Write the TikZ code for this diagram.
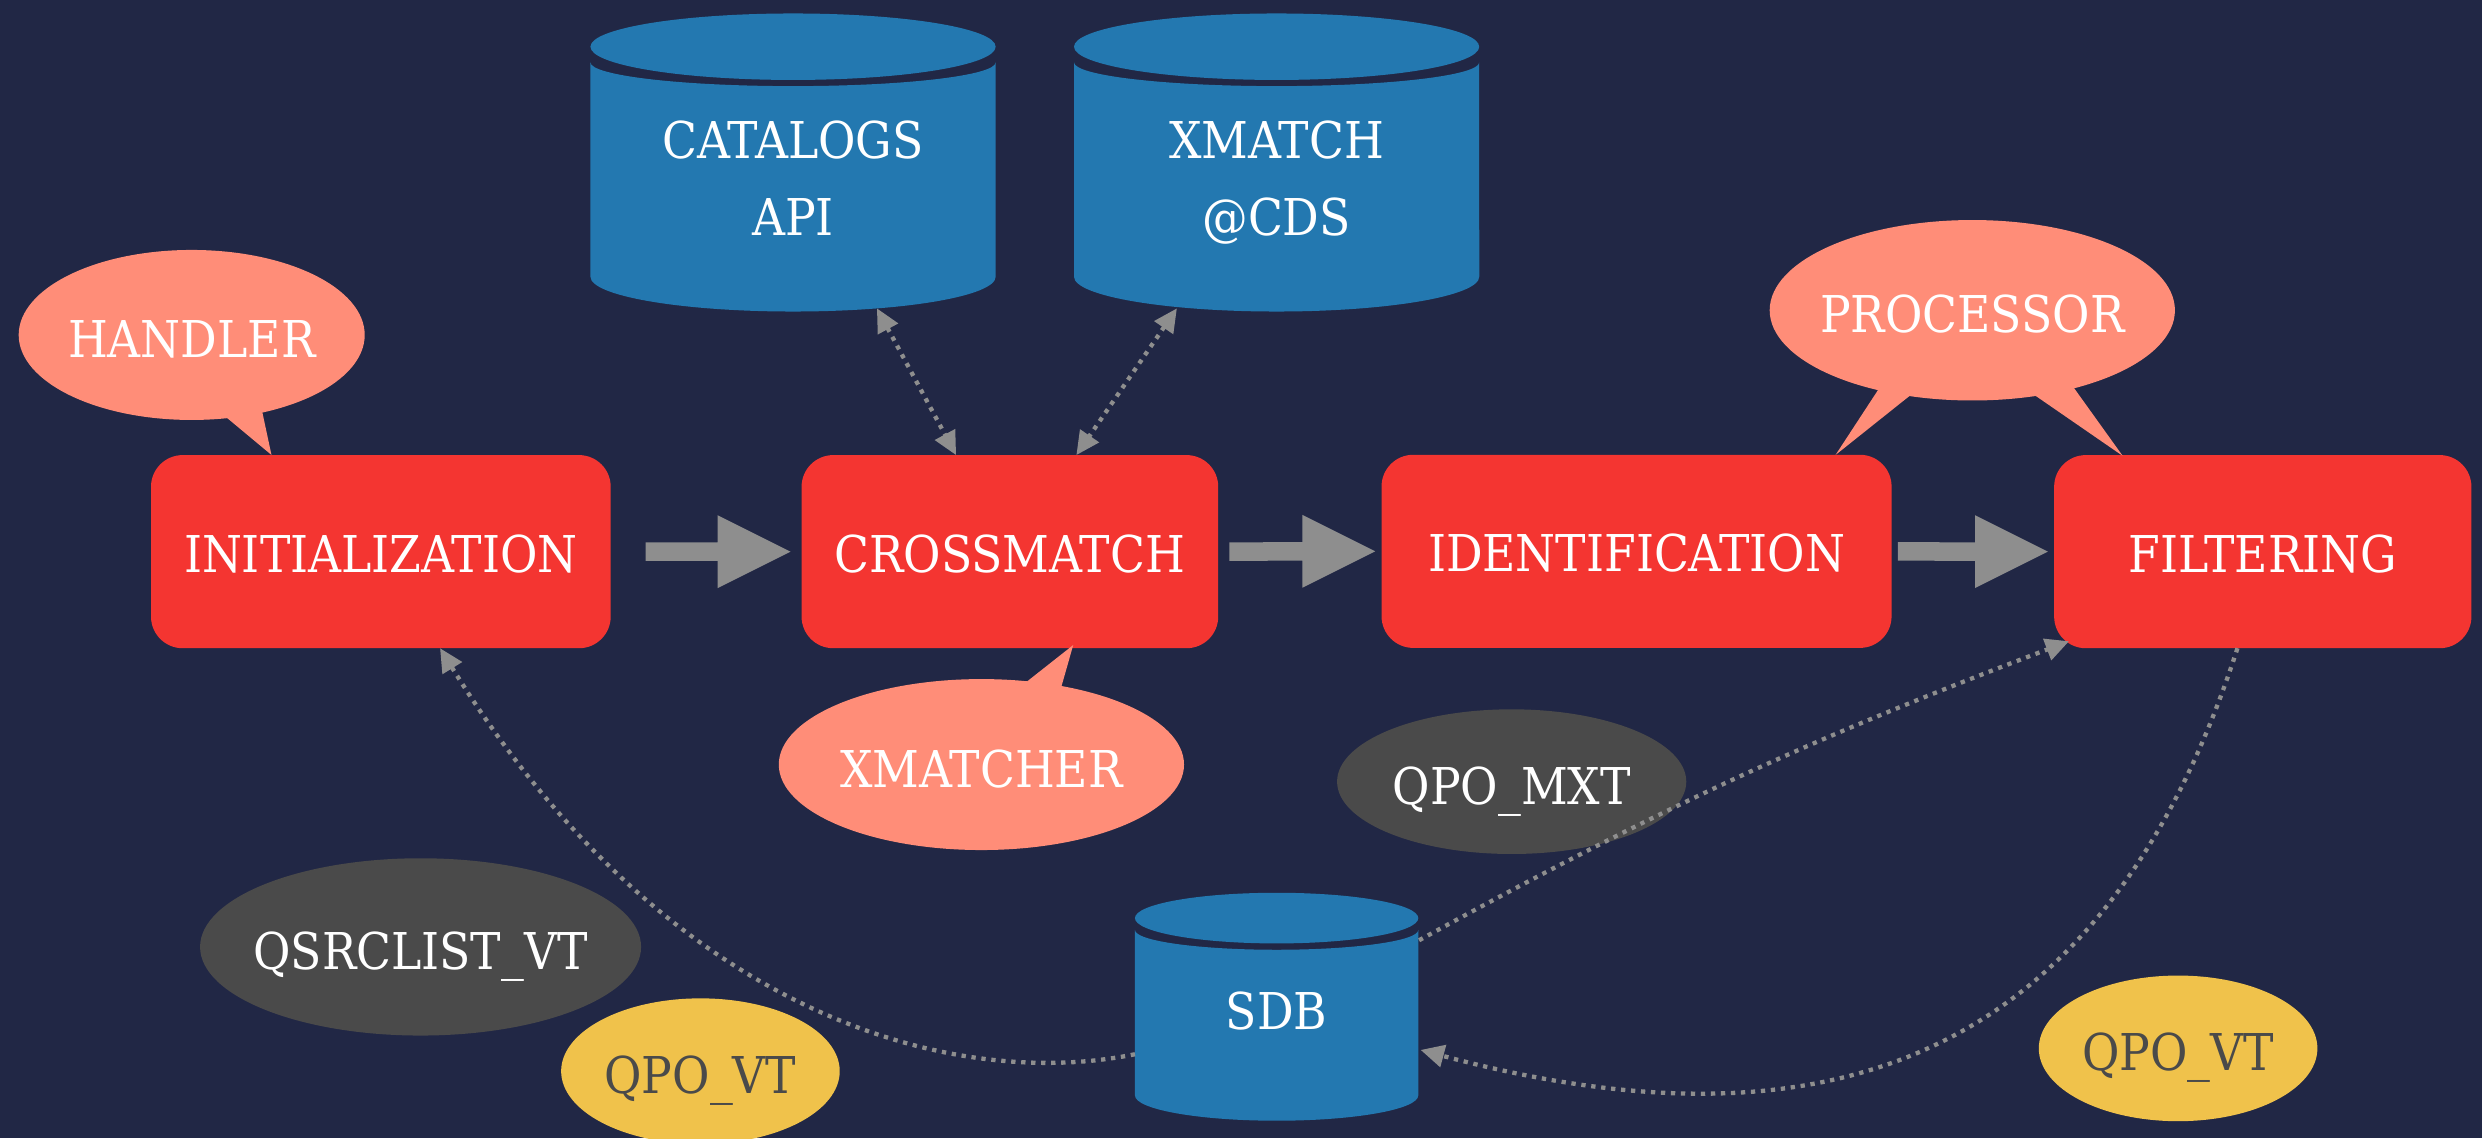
\documentclass[tikz,border=0pt]{standalone}
\usepackage{fontspec}
\setmainfont{DejaVu Serif Condensed}
\usetikzlibrary{calc,arrows.meta,shapes.geometric}

\definecolor{bgnavy}{HTML}{212745}
\definecolor{stepred}{HTML}{F43531}
\definecolor{dbblue}{HTML}{2378B0}
\definecolor{talkpink}{HTML}{FF8D78}
\definecolor{tablegray}{HTML}{4A4A4A}
\definecolor{viewgold}{HTML}{F0C24B}
\definecolor{linkgray}{HTML}{8E8E8E}

% label that does not widen its ellipse
\newcommand\nowidth[1]{\makebox[0pt]{#1}}

% thick block arrow between two stages: #3 gap after source, #4 gap before target
\newcommand\flowarrow[4]{%
  \fill[linkgray]
    ($(#1.east)+(#3,-5.85)$) --
    ($(#2.west)+(-#4-46,-5.85)$) --
    ($(#2.west)+(-#4-46,-23)$) --
    ($(#2.west)+(-#4,0)$) --
    ($(#2.west)+(-#4-46,23)$) --
    ($(#2.west)+(-#4-46,5.85)$) --
    ($(#1.east)+(#3,5.85)$) -- cycle;}

\begin{document}
\begin{tikzpicture}[x=0.25mm,y=-0.25mm,
  every node/.style={inner sep=0pt, outer sep=0pt,
    font=\fontsize{22.8}{34.6}\selectfont},
  oneline/.style={text height=18.4pt, text depth=0pt},
  lowline/.style={text height=20.2pt, text depth=0pt},
  stage/.style={rectangle, rounded corners=5mm, fill=stepred, text=white,
    minimum height=30.5mm, oneline},
  talk/.style={ellipse, fill=talkpink, text=white, lowline},
  table/.style={ellipse, fill=tablegray, text=white, lowline},
  view/.style={ellipse, fill=viewgold, text=tablegray, lowline},
  dbtext/.style={text=white, align=center, text depth=0pt},
  link/.style={draw=linkgray, line width=0.68mm, dash pattern=on 0.68mm off 0.9mm},
  >={Triangle[length=3.7mm,width=3.5mm]}
]
\useasboundingbox (0,0) rectangle (1568,719);
\fill[bgnavy] (0,0) rectangle (1568,719);

% database drums: lid, then body with a thin gap under the lid
\fill[dbblue] (501,29.5) ellipse [x radius=32mm, y radius=5.25mm];
\fill[dbblue] (373,39.4) -- (373,174.8)
  arc[start angle=180, end angle=360, x radius=32mm, y radius=5.5mm]
  -- (629,39.4)
  arc[start angle=0, end angle=-180, x radius=32mm, y radius=3.75mm] -- cycle;

\fill[dbblue] (806.5,29.5) ellipse [x radius=32mm, y radius=5.25mm];
\fill[dbblue] (678.5,39.4) -- (678.5,174.8)
  arc[start angle=180, end angle=360, x radius=32mm, y radius=5.5mm]
  -- (934.5,39.4)
  arc[start angle=0, end angle=-180, x radius=32mm, y radius=3.75mm] -- cycle;

\fill[dbblue] (806.5,580) ellipse [x radius=22.375mm, y radius=4mm];
\fill[dbblue] (717,587.5) -- (717,692)
  arc[start angle=180, end angle=360, x radius=22.375mm, y radius=4mm]
  -- (896,587.5)
  arc[start angle=0, end angle=-180, x radius=22.375mm, y radius=3.125mm] -- cycle;

\node[dbtext] (cat) at (501,112.8) {CATALOGS\\API};
\node[dbtext] (xm) at (806.5,112.8) {XMATCH\\@CDS};
\node[dbtext, text height=16.6pt] (sdb) at (806.5,639) {SDB};

% pipeline stages
\node[stage, minimum width=72.6mm] (init) at (240.6,348.5) {INITIALIZATION};
\node[stage, minimum width=65.8mm] (cross) at (638,348.5) {CROSSMATCH};
\node[stage, minimum width=80.55mm] (ident) at (1033.9,348.3) {IDENTIFICATION};
\node[stage, minimum width=65.9mm] (filt) at (1429.5,348.5) {FILTERING};

% speech bubbles
\node[talk, minimum width=54.65mm, minimum height=26.85mm] (handler) at (121.1,211.6) {\nowidth{HANDLER}};
\node[talk, minimum width=64mm, minimum height=28.5mm] (proc) at (1246,196) {\nowidth{PROCESSOR}};
\node[talk, minimum width=64mm, minimum height=27mm] (xmr) at (620,483) {\nowidth{XMATCHER}};

\fill[talkpink] ($(handler)+(19.9,50.4)$) -- ($(handler)+(50.4,75.8)$) -- ($(handler)+(43.9,45.4)$) -- cycle;
\fill[talkpink] ($(proc)+(-58,48)$) -- ($(proc)+(-86.4,91.4)$) -- ($(proc)+(-37,52)$) -- cycle;
\fill[talkpink] ($(proc)+(37,52)$) -- ($(proc)+(95,92)$) -- ($(proc)+(62,46)$) -- cycle;
\fill[talkpink] ($(xmr)+(24.4,-49)$) -- ($(xmr)+(58,-75.5)$) -- ($(xmr)+(49.6,-46)$) -- cycle;

% tables and views
\node[table, minimum width=69.65mm, minimum height=28mm] (qsrc) at (265.7,598.2) {\nowidth{QSRCLIST\_VT}};
\node[table, minimum width=55.15mm, minimum height=22.85mm] (qmxt) at (955,493.8) {\nowidth{QPO\_MXT}};
\node[view, minimum width=44mm, minimum height=23mm] (qvtl) at (442.5,676.7) {\nowidth{QPO\_VT}};
\node[view, minimum width=44mm, minimum height=23mm] (qvtr) at (1376,662.3) {\nowidth{QPO\_VT}};

% main flow
\flowarrow{init}{cross}{22}{7}
\flowarrow{cross}{ident}{7}{4}
\flowarrow{ident}{filt}{4}{4}

% data links
\draw[link,<->] ($(cat)+(53,82)$) -- ($(cross.north)+(-34,0)$);
\draw[link,<->] ($(xm)+(-63,82)$) -- ($(cross.north)+(42,0)$);
\draw[link,->] ($(sdb)+(-89.5,27)$) .. controls +(-117,24) and +(142,230) .. ($(init.south)+(37.4,0)$);
\draw[link,->] ($(sdb)+(90,-45)$) to[bend left=4] ($(filt.south west)+(9.4,-4.4)$);
\draw[link,->] ($(filt.south)+(-16,0)$) .. controls +(-83,257) and +(261,70) .. ($(sdb)+(91,24.3)$);
\end{tikzpicture}
\end{document}
